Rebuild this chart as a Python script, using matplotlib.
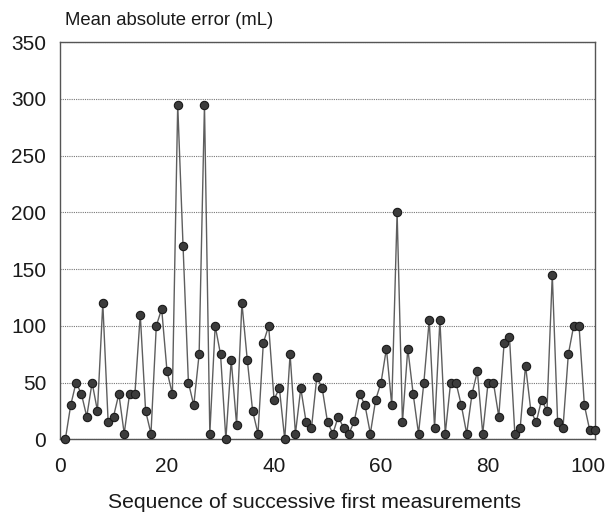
import numpy as np
import matplotlib as mpl
import matplotlib.pyplot as plt
import matplotlib.transforms as mtransforms

mpl.use("Agg")

plt.rcParams.update({"font.family": ["Liberation Sans", "DejaVu Sans"]})
plt.rcParams.update({"font.size": 15})

# sequence number of each first measurement
sequence = np.arange(1, 101)
# mean absolute error (mL)
mae = [
    0, 30, 50, 40, 20, 50, 25, 120, 15, 20,
    40, 5, 40, 40, 110, 25, 5, 100, 115, 60,
    40, 295, 170, 50, 30, 75, 295, 5, 100, 75,
    0, 70, 13, 120, 70, 25, 5, 85, 100, 35,
    45, 0, 75, 5, 45, 15, 10, 55, 45, 15,
    5, 20, 10, 5, 16, 40, 30, 5, 35, 50,
    80, 30, 200, 15, 80, 40, 5, 50, 105, 10,
    105, 5, 50, 50, 30, 5, 40, 60, 5, 50,
    50, 20, 85, 90, 5, 10, 65, 25, 15, 35,
    25, 145, 15, 10, 75, 100, 100, 30, 8, 8,
]
y_ticks = [0, 50, 100, 150, 200, 250, 300, 350]
x_ticks = [0, 20, 40, 60, 80, 100]

fig = plt.figure(figsize=(6.06, 5.15), dpi=100)
ax = fig.add_axes([0.099, 0.147, 0.883, 0.771])

ax.plot(
    sequence,
    mae,
    color="#5e5e5e",
    linewidth=1.0,
    marker="o",
    markersize=6,
    markerfacecolor="#3c3c3c",
    markeredgecolor="#1a1a1a",
    markeredgewidth=0.8,
    clip_on=False,
    zorder=3,
)

ax.set_xlim(0, 100)
ax.set_ylim(0, 350)
ax.set_xticks(x_ticks)
ax.set_yticks(y_ticks)
ax.tick_params(axis="x", length=0, pad=13, labelcolor="#1a1a1a")
ax.tick_params(axis="y", length=0, pad=10, labelcolor="#1a1a1a")
ax.yaxis.grid(True, linestyle=(0, (1, 1)), color="#777777", linewidth=0.8)
ax.set_axisbelow(True)
for side in ["left", "right", "top", "bottom"]:
    ax.spines[side].set_color("#555555")
    ax.spines[side].set_linewidth(1.0)

# last x label sits a bit inside, as in the original
last = ax.get_xticklabels()[-1]
last.set_transform(last.get_transform() + mtransforms.ScaledTranslation(-7 / 100, 0, fig.dpi_scale_trans))

fig.text(0.519, 0.006, "Sequence of successive first measurements", ha="center", va="bottom", color="#1a1a1a", fontsize=15.2)
fig.text(0.107, 0.96, "Mean absolute error (mL)", ha="left", va="center", color="#1a1a1a", fontsize=13.3)

plt.savefig("out.png", dpi=100)
